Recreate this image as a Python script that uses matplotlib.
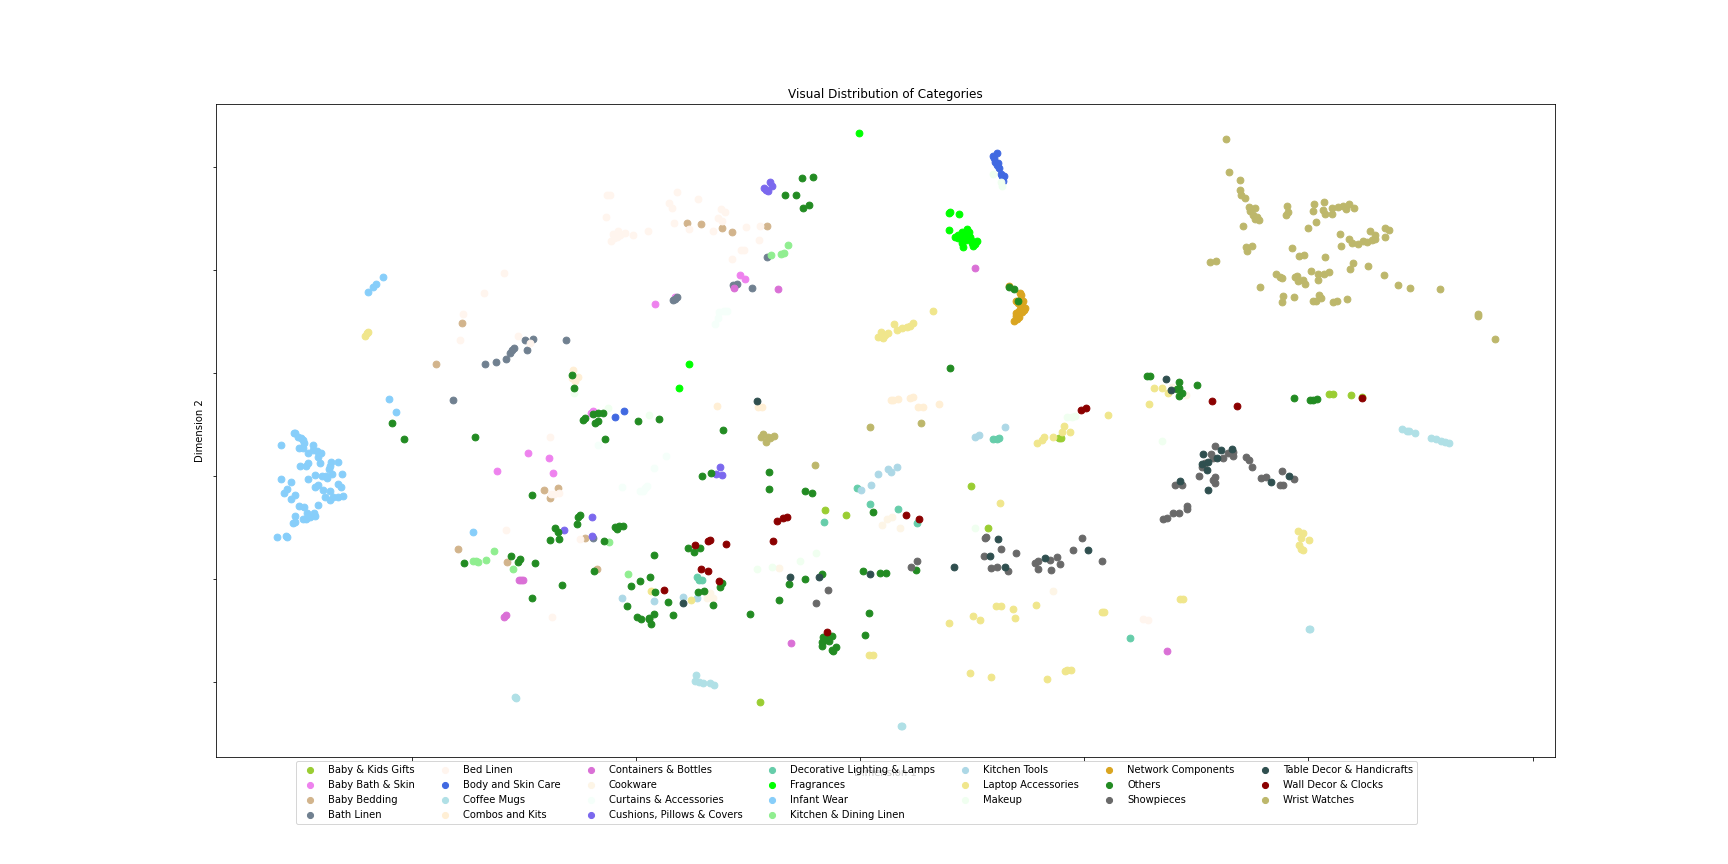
import matplotlib
matplotlib.use('Agg')
import matplotlib.pyplot as plt

# points as (dim1, dim2)
baby_kids_gifts = [(825,510),(846,515),(760,702),(971,486),(988,528),(1059,438),(1061,438),(1329,394),(1333,394),(1351,395),(1362,397)]
baby_bath_skin = [(655,304),(740,275),(745,279),(734,287),(675,297),(528,453),(549,458),(497,471),(553,473),(593,411),(591,413)]
baby_bedding = [(687,223),(701,224),(722,228),(732,232),(767,226),(462,323),(436,364),(544,490),(558,488),(550,498),(458,549),(507,562),(585,538),(597,569)]
bath_linen = [(485,364),(496,362),(506,359),(510,353),(512,350),(514,348),(525,340),(527,350),(533,339),(566,340),(453,400),(673,300),(675,299),(677,297),(733,285),(737,284),(752,288),(767,257),(593,538)]
bed_linen = [(607,195),(610,195),(677,192),(698,199),(669,203),(672,208),(721,209),(725,212),(718,218),(722,221),(606,217),(674,223),(689,229),(713,231),(746,227),(760,226),(759,240),(648,231),(633,235),(625,233),(618,231),(613,234),(617,237),(611,241),(620,235),(614,238),(741,250),(744,250),(732,259),(504,273),(484,293),(463,314),(460,340),(518,336),(530,343),(550,437),(551,494),(559,493),(554,494),(506,530),(580,539),(552,617),(1143,619),(1148,620)]
body_skin_care = [(997,153),(993,156),(995,162),(998,163),(999,168),(1002,176),(1004,176),(1003,181),(994,158),(997,165),(1001,174),(615,417),(624,411)]
coffee_mugs = [(515,697),(516,698),(696,675),(695,681),(699,682),(703,683),(710,683),(714,685),(901,726),(902,726),(1309,629),(1310,629),(1402,429),(1407,431),(1409,431),(1415,433),(1431,438),(1436,439),(1441,441),(1445,442),(1449,443)]
combos_kits = [(717,406),(758,407),(762,407),(891,400),(893,400),(898,399),(910,398),(913,397),(918,407),(923,407),(939,404),(573,370),(578,377),(575,381),(572,378)]
containers_bottles = [(778,289),(975,268),(519,580),(521,580),(523,580),(506,615),(504,617),(791,643),(1167,651),(734,288)]
cookware = [(779,568),(710,593),(707,598),(713,598),(1053,591),(887,519),(892,517),(882,525),(900,528),(1186,395),(1172,387)]
curtains = [(715,324),(718,318),(719,312),(724,311),(727,311),(598,445),(666,456),(654,468),(622,487),(643,491),(647,486),(645,488),(640,491)]
cushions = [(770,182),(772,186),(764,188),(768,191),(766,190),(592,517),(564,530),(592,536),(720,467),(716,474),(722,475)]
deco_lighting = [(993,439),(997,439),(999,438),(697,577),(699,580),(702,580),(857,488),(870,504),(898,509),(824,522),(917,523),(1130,638)]
fragrances = [(859,133),(949,213),(950,212),(959,214),(949,230),(955,237),(958,235),(962,232),(962,239),(967,229),(968,235),(970,237),(972,243),(973,246),(977,241),(963,247),(965,235),(958,238),(962,243),(966,240),(969,232),(960,236),(971,240),(975,244),(689,364),(679,388)]
infant_wear = [(277,537),(286,536),(287,537),(293,523),(295,522),(295,516),(299,506),(304,507),(307,513),(303,519),(306,519),(310,517),(315,516),(314,513),(318,505),(291,499),(295,495),(284,493),(287,489),(291,482),(281,479),(308,479),(315,475),(322,476),(326,476),(327,478),(332,474),(342,474),(318,485),(315,487),(323,490),(330,491),(325,497),(330,500),(333,497),(338,497),(343,496),(338,484),(341,487),(300,466),(306,466),(308,463),(320,463),(329,469),(330,466),(331,462),(338,462),(318,457),(321,453),(317,451),(313,445),(281,445),(299,448),(303,448),(308,453),(313,450),(304,443),(301,438),(298,437),(294,433),(295,433),(303,440),(368,292),(373,287),(376,284),(383,277),(389,399),(396,412),(473,532)]
kitchen_dining = [(788,245),(771,255),(781,254),(784,253),(494,551),(486,560),(473,561),(476,561),(478,562),(513,569),(609,542),(628,574)]
kitchen_tools = [(975,437),(979,435),(1005,427),(861,490),(871,485),(878,474),(888,469),(891,472),(897,467),(622,598),(654,601),(683,597),(697,598)]
laptop_acc = [(365,336),(368,332),(367,333),(882,337),(878,337),(881,332),(885,335),(888,333),(894,324),(897,330),(902,328),(907,327),(910,326),(913,323),(933,311),(883,338),(1037,443),(1042,440),(1044,437),(1053,437),(1062,432),(1064,426),(1070,432),(1108,415),(651,591),(691,600),(869,655),(873,655),(1000,503),(949,623),(973,616),(980,620),(996,606),(1001,606),(1013,609),(1015,618),(1036,605),(1102,612),(1104,612),(1180,599),(1183,599),(970,673),(991,677),(1047,679),(1065,671),(1067,670),(1071,670),(1298,531),(1303,533),(1301,538),(1309,540),(1299,545),(1301,549),(1303,550),(1154,388),(1162,388),(1168,393),(1149,404)]
makeup = [(993,174),(1001,182),(1002,186),(649,415),(608,408),(574,393),(1067,417),(1072,417),(1075,416),(1162,441),(975,528),(757,569),(772,567),(800,561),(816,553)]
network = [(1009,286),(1020,293),(1023,301),(1018,303),(1024,310),(1018,312),(1022,312),(1019,317),(1017,319),(1014,321),(1016,313),(1021,295),(1016,301),(1022,305),(1025,308),(1020,309),(1016,316)]
others = [(802,178),(813,177),(785,195),(796,195),(803,208),(809,205),(1009,287),(1014,289),(1018,301),(950,368),(723,430),(659,419),(638,421),(605,439),(603,413),(572,375),(574,388),(392,423),(404,439),(475,437),(532,495),(583,420),(585,418),(593,414),(598,413),(595,423),(598,421),(578,517),(580,515),(577,524),(555,528),(558,532),(550,540),(559,539),(604,541),(511,556),(520,559),(518,562),(535,563),(464,563),(654,555),(702,476),(711,473),(769,472),(769,489),(805,491),(812,493),(873,512),(615,527),(619,526),(617,529),(623,526),(688,548),(700,548),(694,552),(562,585),(594,571),(532,598),(640,581),(650,577),(631,586),(655,592),(668,602),(627,606),(637,617),(641,619),(649,618),(649,619),(651,624),(654,614),(673,615),(698,592),(704,591),(722,583),(720,587),(713,605),(750,614),(779,600),(805,579),(789,584),(822,574),(863,571),(880,573),(886,573),(916,570),(869,613),(865,635),(823,637),(827,637),(832,636),(829,641),(822,642),(822,646),(833,651),(836,647),(832,650),(826,640),(1147,376),(1150,376),(1179,382),(1197,385),(1179,388),(1177,389),(1182,393),(1179,396),(1294,398),(1310,400),(1313,400),(1317,399)]
showpieces = [(1215,446),(1211,454),(1213,458),(1223,458),(1233,452),(1233,456),(1228,453),(1202,467),(1205,463),(1246,457),(1249,460),(1252,467),(1199,476),(1215,477),(1213,480),(1215,483),(1175,485),(1182,485),(1261,478),(1266,477),(1282,471),(1294,479),(1280,485),(1283,485),(1187,506),(1187,509),(1179,513),(1173,513),(1167,518),(1163,519),(985,538),(986,537),(1001,549),(1016,553),(984,556),(991,568),(997,567),(1008,571),(911,567),(917,561),(1035,563),(1038,561),(1050,560),(1057,557),(1060,564),(1038,569),(1051,570),(1073,550),(1082,538),(1102,561),(828,590),(816,603)]
table_decor = [(1203,454),(1221,450),(1232,449),(1217,458),(1208,462),(1202,464),(1207,470),(1180,481),(1208,490),(1271,482),(1289,476),(998,539),(990,556),(1005,567),(1045,558),(1088,550),(954,567),(870,574),(790,577),(819,577),(683,603),(757,401),(1166,379),(1171,390)]
wall_decor = [(777,521),(783,518),(787,517),(773,541),(695,545),(708,541),(710,540),(726,544),(701,569),(708,571),(719,581),(664,590),(827,632),(906,515),(919,519),(1081,410),(1086,408),(1212,401),(1237,406),(1362,398)]
wrist_watches = [(1226,139),(1229,172),(1240,180),(1240,190),(1241,195),(1245,198),(1249,207),(1250,211),(1255,208),(1253,215),(1257,217),(1255,219),(1259,220),(1243,226),(1287,206),(1288,212),(1286,215),(1314,204),(1324,202),(1313,211),(1323,210),(1325,214),(1332,208),(1332,214),(1338,207),(1343,206),(1346,209),(1349,204),(1354,208),(1316,222),(1308,228),(1340,234),(1349,239),(1352,243),(1341,246),(1358,244),(1363,241),(1367,242),(1370,231),(1372,240),(1375,235),(1375,239),(1385,228),(1389,230),(1385,237),(1246,247),(1252,246),(1247,251),(1210,262),(1216,261),(1292,248),(1299,256),(1304,255),(1325,257),(1353,263),(1350,269),(1368,266),(1384,275),(1398,285),(1410,288),(1440,289),(1478,314),(1478,316),(1495,339),(1276,274),(1280,277),(1282,278),(1295,277),(1297,276),(1298,281),(1303,280),(1305,284),(1311,271),(1318,274),(1318,280),(1324,274),(1329,272),(1260,287),(1283,296),(1282,302),(1294,297),(1313,301),(1316,301),(1319,295),(1321,298),(1333,302),(1337,301),(1347,299),(763,434),(774,436),(766,442),(768,437),(761,437),(770,438),(870,427),(921,423),(815,465)]

categories = ['Baby & Kids Gifts', 'Baby Bath & Skin', 'Baby Bedding', 'Bath Linen', 'Bed Linen',
              'Body and Skin Care', 'Coffee Mugs', 'Combos and Kits', 'Containers & Bottles', 'Cookware',
              'Curtains & Accessories', 'Cushions, Pillows & Covers', 'Decorative Lighting & Lamps',
              'Fragrances', 'Infant Wear', 'Kitchen & Dining Linen', 'Kitchen Tools', 'Laptop Accessories',
              'Makeup', 'Network Components', 'Others', 'Showpieces', 'Table Decor & Handicrafts',
              'Wall Decor & Clocks', 'Wrist Watches']
points = [baby_kids_gifts, baby_bath_skin, baby_bedding, bath_linen, bed_linen, body_skin_care, coffee_mugs,
          combos_kits, containers_bottles, cookware, curtains, cushions, deco_lighting, fragrances, infant_wear,
          kitchen_dining, kitchen_tools, laptop_acc, makeup, network, others, showpieces, table_decor,
          wall_decor, wrist_watches]
colors = ['yellowgreen', 'violet', 'tan', 'slategray', 'seashell', 'royalblue', 'powderblue', 'papayawhip',
          'orchid', 'oldlace', 'mintcream', 'mediumslateblue', 'mediumaquamarine', 'lime', 'lightskyblue',
          'lightgreen', 'lightblue', 'khaki', 'honeydew', 'goldenrod', 'forestgreen', 'dimgray',
          'darkslategray', 'darkred', 'darkkhaki']
x_ticks = [412, 636, 860, 1084, 1308, 1533]
y_ticks = [167, 270, 373, 476, 579, 682]

fig = plt.figure(figsize=(24, 12), dpi=72)
ax = fig.add_axes([0.125, 0.1238, 0.775, 0.7558])

for name, pts, c in zip(categories, points, colors):
    ax.scatter([p[0] for p in pts], [p[1] for p in pts], s=46, color=c, label=name)

ax.set_xlim(216, 1555)
ax.set_ylim(757, 104)
ax.set_xticks(x_ticks)
ax.set_yticks(y_ticks)
ax.set_xticklabels([])
ax.set_yticklabels([])
ax.set_title('Visual Distribution of Categories')
ax.set_xlabel('Dimension 1')
ax.set_ylabel('Dimension 2')
ax.legend(loc='upper center', bbox_to_anchor=(0.4783, -0.006), borderaxespad=0, ncol=7, markerscale=0.9)

fig.savefig('out.png')
